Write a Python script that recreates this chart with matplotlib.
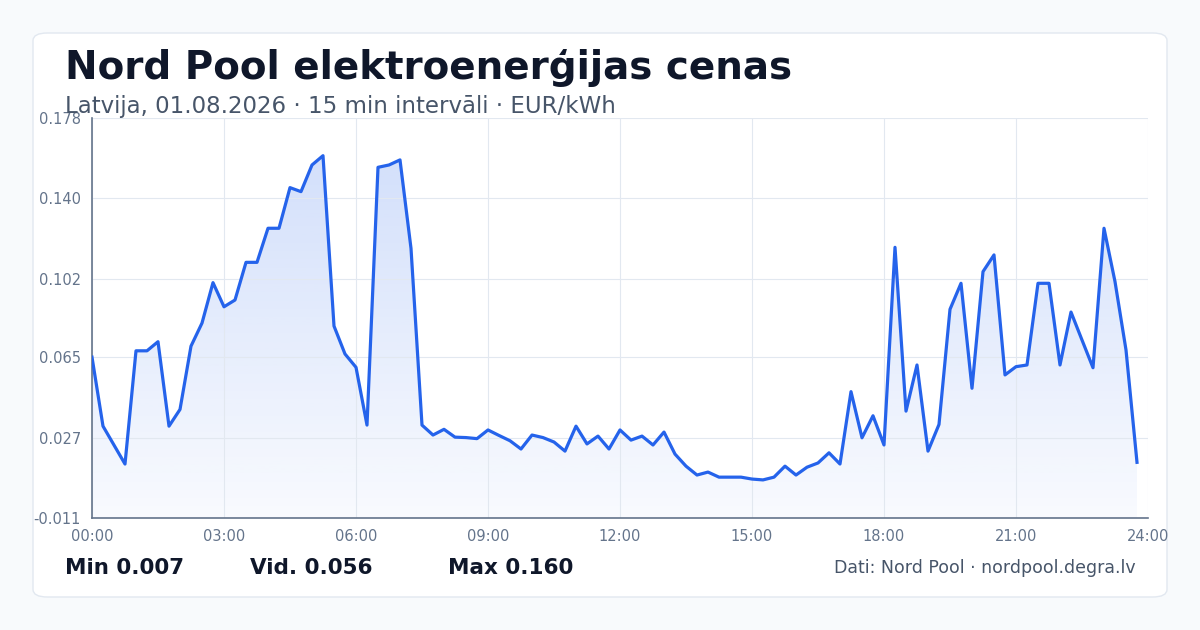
import numpy as np
import matplotlib.pyplot as plt
from matplotlib.patches import FancyBboxPatch

# stundas (15 min solis) un cenas EUR/kWh
hours = [0, 0.25, 0.75, 1.0, 1.25, 1.5, 1.75, 2.0, 2.25, 2.5, 2.75, 3.0, 3.25, 3.5, 3.75,
         4.0, 4.25, 4.5, 4.75, 5.0, 5.25, 5.5, 5.75, 6.0, 6.25, 6.5, 6.75, 7.0, 7.25, 7.5,
         7.75, 8.0, 8.25, 8.5, 8.75, 9.0, 9.25, 9.5, 9.75, 10.0, 10.25, 10.5, 10.75, 11.0,
         11.25, 11.5, 11.75, 12.0, 12.25, 12.5, 12.75, 13.0, 13.25, 13.5, 13.75, 14.0,
         14.25, 14.5, 14.75, 15.0, 15.25, 15.5, 15.75, 16.0, 16.25, 16.5, 16.75, 17.0,
         17.25, 17.5, 17.75, 18.0, 18.25, 18.5, 18.75, 19.0, 19.25, 19.5, 19.75, 20.0,
         20.25, 20.5, 20.75, 21.0, 21.25, 21.5, 21.75, 22.0, 22.25, 22.5, 22.75, 23.0,
         23.25, 23.5, 23.75]
prices = [0.065, 0.0324, 0.0145, 0.068, 0.068, 0.0723, 0.0324, 0.0403, 0.0702, 0.0811,
          0.1002, 0.0888, 0.092, 0.1098, 0.1098, 0.1259, 0.1259, 0.1451, 0.1432, 0.1558,
          0.1602, 0.0797, 0.0665, 0.0602, 0.0329, 0.1547, 0.1558, 0.1582, 0.1164, 0.0329,
          0.0282, 0.0309, 0.0272, 0.027, 0.0265, 0.0306, 0.028, 0.0255, 0.0216, 0.0282,
          0.027, 0.0249, 0.0206, 0.0324, 0.024, 0.0277, 0.0216, 0.0306, 0.0258, 0.0277,
          0.0235, 0.0296, 0.0192, 0.0135, 0.0093, 0.0107, 0.0083, 0.0083, 0.0083, 0.0074,
          0.0070, 0.0083, 0.0135, 0.0093, 0.013, 0.015, 0.0198, 0.0145, 0.0487, 0.0269,
          0.0373, 0.0235, 0.1169, 0.0395, 0.0613, 0.0206, 0.0332, 0.0876, 0.0999, 0.0503,
          0.1054, 0.1133, 0.0566, 0.0605, 0.0613, 0.0999, 0.0999, 0.0613, 0.0863, 0.0731,
          0.060, 0.1259, 0.1007, 0.0684, 0.0153]
y_ticks = [-0.011, 0.027, 0.065, 0.102, 0.140, 0.178]
x_ticks = [0, 3, 6, 9, 12, 15, 18, 21, 24]
x_labels = ['00:00', '03:00', '06:00', '09:00', '12:00', '15:00', '18:00', '21:00', '24:00']

fig = plt.figure(figsize=(12, 6.3), dpi=100, facecolor='#f8fafc')
card = FancyBboxPatch((33 / 1200, 33 / 630), 1134 / 1200, 564 / 630,
                      boxstyle='round,pad=0,rounding_size=0.012',
                      transform=fig.transFigure, facecolor='white',
                      edgecolor='#e2e8f0', linewidth=1, zorder=-1)
fig.patches.append(card)

ax = fig.add_axes([92 / 1200, 112 / 630, 1056 / 1200, 400 / 630])
ax.set_xlim(0, 24)
ax.set_ylim(-0.011, 0.178)
ax.set_facecolor('white')

# gradienta aizpildījums zem līnijas
grad = np.linspace(0.22, 0.03, 256).reshape(-1, 1)
cmap = plt.matplotlib.colors.LinearSegmentedColormap.from_list('g', ['#2563eb', '#2563eb'])
img = ax.imshow(np.ones_like(grad), extent=[0, 24, -0.011, 0.178], aspect='auto',
                cmap=cmap, alpha=grad, origin='upper', zorder=1)
poly = ax.fill_between(hours, prices, -0.011, color='none')
path = poly.get_paths()[0]
img.set_clip_path(path, transform=ax.transData)

ax.plot(hours, prices, color='#2563eb', lw=2.3, zorder=3, solid_joinstyle='round')

ax.set_yticks(y_ticks)
ax.set_yticklabels([f'{v:.3f}' for v in y_ticks])
ax.set_xticks(x_ticks)
ax.set_xticklabels(x_labels)
ax.grid(color='#e2e8f0', lw=0.8, zorder=0)
ax.tick_params(colors='#64748b', labelsize=10.5, length=0, pad=8)
for s in ['top', 'right']:
    ax.spines[s].set_visible(False)
for s in ['left', 'bottom']:
    ax.spines[s].set_color('#64748b')
    ax.spines[s].set_linewidth(1.2)

fig.text(65 / 1200, 1 - 68 / 630, 'Nord Pool elektroenerģijas cenas', fontsize=28,
         fontweight='bold', color='#0f172a', va='center')
fig.text(65 / 1200, 1 - 107 / 630, 'Latvija, 01.08.2026 · 15 min intervāli · EUR/kWh',
         fontsize=16.5, color='#475569', va='center')

y_st = 1 - 568 / 630
fig.text(65 / 1200, y_st, f'Min {min(prices):.3f}', fontsize=15.5, fontweight='bold',
         color='#0f172a', va='center')
fig.text(250 / 1200, y_st, f'Vid. {np.mean(prices):.3f}', fontsize=15.5, fontweight='bold',
         color='#0f172a', va='center')
fig.text(448 / 1200, y_st, f'Max {max(prices):.3f}', fontsize=15.5, fontweight='bold',
         color='#0f172a', va='center')
fig.text(1136 / 1200, y_st, 'Dati: Nord Pool · nordpool.degra.lv', fontsize=12.5,
         color='#475569', va='center', ha='right')

fig.savefig('out.png', dpi=100, facecolor=fig.get_facecolor())
